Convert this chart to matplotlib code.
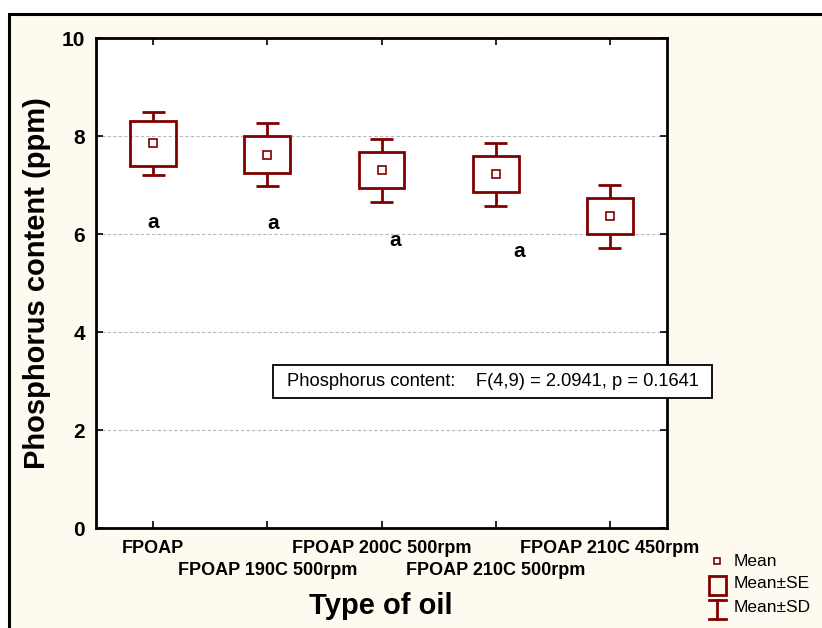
import matplotlib
matplotlib.use("Agg")
import matplotlib.pyplot as plt
from matplotlib.patches import Rectangle
from matplotlib.lines import Line2D
from matplotlib.transforms import ScaledTranslation

categories = ["FPOAP", "FPOAP 190C 500rpm", "FPOAP 200C 500rpm",
              "FPOAP 210C 500rpm", "FPOAP 210C 450rpm"]
means = [7.85, 7.62, 7.30, 7.22, 6.36]
se = [0.46, 0.375, 0.37, 0.365, 0.37]
sd = [0.645, 0.64, 0.64, 0.64, 0.64]
letters = ["a", "a", "a", "a"]
letter_x = [0.0, 1.05, 2.12, 3.21]
letter_y = [6.24, 6.22, 5.87, 5.65]
yticks = [0, 2, 4, 6, 8, 10]
stat_text = "Phosphorus content:    F(4,9) = 2.0941, p = 0.1641"

W, H = 822, 628
DARK = "#800000"
CREAM = "#fffaf0"
NARROW = ["Liberation Sans Narrow", "Liberation Sans"]
SANS = ["Liberation Sans", "DejaVu Sans"]

fig = plt.figure(figsize=(W / 100, H / 100), dpi=100)
fig.patch.set_facecolor("white")

def fx(px):
    return px / W

def fy(py):
    return 1 - py / H

# cream frame
fig.add_artist(Rectangle((fx(9), -0.05), 1.2, fy(14) + 0.05, transform=fig.transFigure,
                         facecolor=CREAM, edgecolor="black", lw=2.2, zorder=0))

ax = fig.add_axes([fx(96), fy(528), fx(667) - fx(96), fy(38) - fy(528)])
ax.set_facecolor("white")
ax.set_xlim(-0.5, 4.5)
ax.set_ylim(0, 10)

for s in ax.spines.values():
    s.set_linewidth(2)
    s.set_color("black")

ax.set_yticks(yticks)
ax.set_yticklabels([str(v) for v in yticks], fontfamily=NARROW, fontweight="bold", fontsize=15)
xpos = list(range(len(categories)))
ax.set_xticks(xpos)
ax.set_xticklabels(categories, fontfamily=NARROW, fontweight="bold", fontsize=13)
ax.tick_params(axis="both", direction="in", length=5, width=1.2, top=True, right=True,
               colors="black")
ax.tick_params(axis="y", pad=8)
ax.tick_params(axis="x", pad=8.5)
shift = ScaledTranslation(0, -22 / 100, fig.dpi_scale_trans)
for i, lab in enumerate(ax.get_xticklabels()):
    if i % 2 == 1:
        lab.set_transform(lab.get_transform() + shift)

ax.yaxis.grid(True, linestyle=(0, (3, 2)), color="#b8b8b8", lw=0.8)
ax.set_axisbelow(True)

box_w = 0.4
cap_w = 0.2
for x, m, e, d in zip(xpos, means, se, sd):
    ax.add_patch(Rectangle((x - box_w / 2, m - e), box_w, 2 * e, facecolor="none",
                           edgecolor=DARK, lw=2, zorder=3))
    ax.vlines(x, m + e, m + d, color=DARK, lw=2, zorder=3)
    ax.vlines(x, m - d, m - e, color=DARK, lw=2, zorder=3)
    ax.hlines([m + d, m - d], x - cap_w / 2, x + cap_w / 2, color=DARK, lw=2, zorder=3)
    ax.plot([x], [m], marker="s", ms=6, mfc="white", mec=DARK, mew=1.2, zorder=4)

for lx, ly, t in zip(letter_x, letter_y, letters):
    ax.text(lx, ly, t, ha="center", va="center", fontsize=15, fontweight="bold",
            fontfamily=SANS)

ax.set_ylabel("Phosphorus content (ppm)", fontsize=21, fontweight="bold", fontfamily=SANS)
ax.set_xlabel("Type of oil", fontsize=21, fontweight="bold", fontfamily=SANS)
ax.yaxis.set_label_coords((37 - 96) / (667 - 96), 0.5)
ax.xaxis.set_label_coords((381 - 96) / (667 - 96), -(606 - 528) / (528 - 38))
ax.xaxis.label.set_va("center")
ax.yaxis.label.set_va("center")

# statistics box
fig.add_artist(Rectangle((fx(273), fy(398)), fx(712) - fx(273), fy(365) - fy(398),
                         transform=fig.transFigure, facecolor="white", edgecolor="black",
                         lw=1.3, zorder=5))
fig.text(fx(287), fy(381.5), stat_text, ha="left", va="center", fontsize=13.2,
         fontfamily=SANS, zorder=6)

# legend
lx = fx(717)
fig.add_artist(Line2D([lx], [fy(561)], marker="s", ms=5, mfc="white", mec=DARK, mew=1.2,
                      transform=fig.transFigure))
fig.add_artist(Rectangle((fx(709), fy(595)), fx(726) - fx(709), fy(576) - fy(595),
                         transform=fig.transFigure, facecolor="none", edgecolor=DARK, lw=2))
fig.add_artist(Line2D([lx, lx], [fy(600), fy(619)], color=DARK, lw=2, transform=fig.transFigure))
fig.add_artist(Line2D([fx(709), fx(726)], [fy(600), fy(600)], color=DARK, lw=2,
                      transform=fig.transFigure))
fig.add_artist(Line2D([fx(709), fx(726)], [fy(619), fy(619)], color=DARK, lw=2,
                      transform=fig.transFigure))
for ty, t in zip([561, 584, 608], ["Mean", "Mean\u00b1SE", "Mean\u00b1SD"]):
    fig.text(fx(734), fy(ty), t, ha="left", va="center", fontsize=12.5, fontfamily=SANS)

fig.savefig("out.png", dpi=100, facecolor=fig.get_facecolor())
